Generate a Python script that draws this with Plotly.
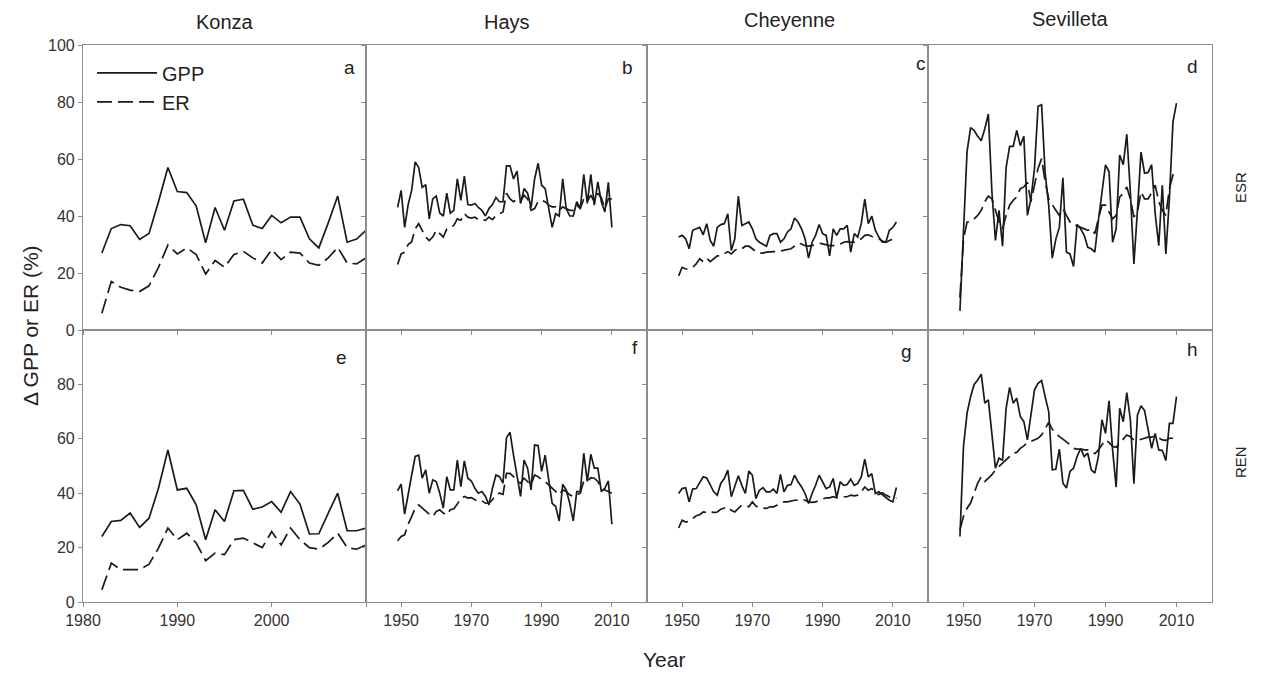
import plotly.graph_objects as go
from plotly.subplots import make_subplots

# ---------------- data ----------------
konza_years = list(range(1982, 2011))
konza_esr_gpp = [27, 35.6, 37, 36.6, 31.8, 33.9, 45, 57, 48.6, 48.2, 43.5, 30.6, 43, 35, 45.3, 45.9,
                 36.8, 35.6, 40.2, 37.6, 39.6, 39.6, 32, 28.8, 37.6, 47, 30.8, 31.9, 35]
konza_esr_er = [5.9, 17, 15, 14, 13.5, 15.5, 22, 29.8, 26.7, 28.8, 26.5, 19.6, 24.4, 22, 26.5, 27.6,
                25.3, 23.5, 28.2, 24.7, 27.3, 27, 23.5, 22.7, 25.3, 29, 23.5, 23.2, 25.3]
konza_ren_gpp = [24.1, 29.6, 30, 32.7, 27.4, 30.8, 41.8, 55.9, 41.2, 41.8, 35.7, 22.9, 33.9, 29.6, 40.9, 41,
                 34.1, 34.9, 36.9, 33, 40.6, 36, 25, 25.1, 32.7, 40, 26.2, 26.2, 27.2]
konza_ren_er = [4.5, 14.3, 11.9, 11.9, 11.9, 13.9, 19.8, 27.2, 22.9, 25.3, 21.7, 15.2, 18, 17.4, 22.9, 23.5,
                21.7, 20, 25.9, 21, 27.2, 22.9, 20, 19.4, 21.9, 25.3, 20, 19.4, 21]

hays_years = list(range(1949, 2011))
hays_esr_gpp = [43, 49, 36, 44, 49, 59, 57, 50, 51, 39, 46, 47, 41, 40, 48, 41, 42, 53, 45.5, 54,
                44, 43.8, 44.4, 43, 42, 40, 42.6, 44, 46.5, 45, 45, 57.6, 57.6, 53, 55.8, 44.4,
                49.6, 48, 43, 53, 58.5, 50.8, 49.6, 42.6, 36, 40.8, 40, 53, 42.6, 40, 40, 45,
                42.6, 54.6, 44.4, 54.6, 43.8, 52, 45, 41.4, 51.8, 36]
hays_esr_er = [23, 26.7, 27.3, 30, 31, 35.5, 37.3, 35, 32.6, 31.4, 32.6, 35, 33.8, 32.6, 35.5, 36, 36.7,
               39, 38.5, 40.8, 39.6, 39.3, 39.6, 38.7, 38.5, 38.5, 39.6, 38.7, 40.2, 40.8, 41.4, 48,
               46, 45, 46, 45, 47.3, 46, 42, 42.6, 45, 45.5, 45, 43.8, 43.2, 43.2, 42, 43.2, 42.6,
               42, 42, 43.8, 42.6, 46, 45, 47.3, 45, 48, 46.4, 42.6, 46, 46]
hays_ren_gpp = [40.9, 43.3, 32.3, 40, 46.7, 53.5, 54, 45.5, 48.6, 40, 44.9, 44.3, 40, 34.5, 46.1, 41.2,
                41.2, 52.2, 42.4, 51.9, 45.5, 44.5, 41.8, 40, 40.6, 38.8, 35.7, 41.8, 46.7, 46.1, 43.7,
                60.4, 62.4, 54, 46.7, 38.8, 52.2, 49.2, 41.2, 57.7, 57.5, 48, 54, 44.3, 36.3, 35.1,
                29.8, 43.3, 41.2, 36.3, 29.8, 40.6, 40.6, 54.7, 44.3, 54.3, 49.2, 49.2, 40.6, 41.8,
                44.5, 28.6]
hays_ren_er = [22.5, 24.1, 24.7, 28.6, 31.4, 34.5, 35.7, 34.5, 33.3, 32.3, 31.4, 33.3, 33.9, 32.7, 32,
               33.9, 34.3, 36, 38.2, 38.8, 38.2, 38.4, 37.6, 36.9, 37.2, 36.3, 36.3, 37.6, 39.4, 40,
               39.6, 47.3, 47.3, 46.1, 44.3, 43.7, 45.5, 44.3, 43.1, 46.7, 46.1, 44.9, 44.3, 43.1,
               41.8, 40.6, 39.4, 41.2, 40.6, 39.4, 38.8, 39.4, 40, 44.5, 44.3, 45.7, 45.5, 44.3,
               41.8, 41.2, 40.6, 40]

cheyenne_years = list(range(1949, 2012))
cheyenne_esr_gpp = [32.6, 33.2, 32, 28.5, 35, 35.5, 36, 33.4, 37.3, 31.4, 29.4, 36, 37, 37.3, 40.8, 27.9,
                    32, 47, 36.7, 37.3, 37.9, 35.5, 32, 30.8, 30.2, 29.4, 33.2, 33.8, 33.8, 30.8, 32,
                    34.4, 35.5, 39.3, 37.9, 35.5, 32, 25.2, 30.8, 33.2, 37, 33.8, 33.2, 26, 35.5, 33.2,
                    35.5, 35.5, 36.7, 27.3, 33.8, 32.6, 37.3, 45.9, 37.3, 40, 35, 32.6, 30.8, 30.8,
                    35, 36, 37.9]
cheyenne_esr_er = [19, 22, 21.4, 21.4, 22, 23.2, 25, 24, 25.2, 24, 25, 26, 26, 26.7, 27.5, 26.7, 27.9,
                   28.7, 28.5, 29.4, 29.4, 28.5, 27.5, 27, 27, 27.3, 27.5, 27.5, 27.5, 27.8, 27.9,
                   28.2, 28.5, 29.4, 30.5, 30.2, 29.6, 29.4, 29.6, 30.2, 30.5, 30.2, 29.9, 29.6, 29.6,
                   29.9, 30.2, 30.8, 31, 30.8, 30.8, 31.4, 32, 33.2, 33.4, 32.8, 32.6, 32, 31.2, 30.8,
                   31.4, 32, 33]
cheyenne_ren_gpp = [39.9, 41.7, 42, 36.8, 41.5, 41.7, 43.9, 46, 45.6, 42.9, 40.5, 39.3, 43.6, 45.4, 48.5,
                    38.7, 42.9, 46.4, 42.9, 39.9, 48.1, 46.6, 38, 41.1, 42, 40.5, 40.5, 41.5, 39.9, 46.9,
                    40.5, 42.9, 43.2, 46.6, 44.2, 42.3, 39.9, 36.2, 39.9, 42.9, 46.6, 44.2, 41.7, 42.3,
                    45.4, 38.3, 44.2, 42.9, 43.2, 45.2, 42.9, 43.6, 46, 52.5, 46, 47.2, 39.9, 40.5,
                    39.5, 38.7, 37.4, 36.8, 42.1]
cheyenne_ren_er = [27.2, 30.1, 29.4, 29.7, 30.7, 31.7, 32.1, 33.1, 32.9, 33.4, 32.9, 33.1, 34.1, 34.6, 35,
                   33.7, 33.1, 34.4, 35.6, 35.3, 35, 36.8, 35.3, 34.6, 34.6, 34.4, 35, 35, 35.6, 36.2,
                   36.8, 36.8, 37.1, 37.4, 37.4, 37.8, 37.4, 36.8, 36.6, 36.8, 37.4, 38, 38.3, 38.3,
                   38.7, 38.3, 38.7, 38.7, 38.7, 39.3, 39, 39.3, 40.5, 42.3, 41.1, 41.7, 39.9, 39.5,
                   40.2, 39.3, 38.7, 38, 38.3]

sevilleta_years = list(range(1949, 2011))
sevilleta_esr_gpp = [6.7, 36.7, 62.6, 71, 70, 68, 66.4, 70.6, 75.8, 48.5, 31.4, 42, 29.4, 57, 64.4, 64.4,
                     70, 64.7, 68, 40.2, 46, 56.7, 78.5, 79, 55, 43.8, 25.2, 31.8, 36, 53.4, 27.3, 26.7,
                     22.3, 37, 35.5, 33.2, 29, 28.5, 27.3, 38.5, 49, 57.9, 55.5, 30.8, 35.5, 61.4, 58,
                     68.7, 48.5, 23.2, 42, 62.4, 55, 55.3, 58, 40.8, 29.6, 50.8, 26.7, 46, 73, 79.6]
sevilleta_esr_er = [11.4, 32, 37.9, 37.9, 39, 40.2, 42, 45, 47, 46, 42, 37.9, 35.5, 40.2, 43.8, 45.5,
                    46.7, 49.6, 50.2, 51.8, 45, 50.8, 56.7, 60.2, 52, 46, 43.8, 42, 40.2, 42.6, 40.2,
                    37.9, 36.7, 36.7, 36, 35.5, 35, 35.5, 33.8, 39, 43.8, 43.8, 41.4, 39, 40.2, 46.7,
                    47.9, 50.2, 46, 39.6, 41.4, 48.5, 46, 46, 48.2, 50.8, 45, 42, 40.2, 49.6, 54.4, 56.4]
sevilleta_ren_gpp = [24.1, 57.2, 69.4, 75.5, 80, 81.6, 83.8, 73.1, 74.3, 60.8, 49.2, 52.9, 52, 71.2, 78.9,
                     73.1, 74.9, 68.2, 66.3, 59.6, 69.4, 78, 80.4, 81.4, 75.5, 70, 48.6, 48.8, 56.2,
                     43.7, 41.9, 48, 49.2, 53.5, 56.5, 53.5, 54.7, 48.6, 47.4, 53.5, 67, 62, 74, 55.9,
                     42.2, 71.2, 66.3, 77, 67, 43.5, 68.8, 72.1, 70.4, 63.3, 56.5, 62, 55.9, 55.7, 52,
                     65.7, 65.7, 75.5]
sevilleta_ren_er = [26.6, 31.5, 34.5, 36.4, 40, 43.7, 46.1, 44.3, 45.5, 46.8, 48.6, 49.8, 51.3, 52.3, 53.5,
                    54.7, 55, 56.5, 57.4, 58.6, 59, 59.6, 60.2, 61.4, 63.5, 66, 63.5, 62, 60.8, 59.9,
                    59, 57.8, 56.5, 56.2, 56.2, 55.9, 55.9, 55.3, 54.5, 55.9, 57.8, 59.6, 58.6, 57.2,
                    56.9, 58.4, 60.2, 61.4, 60.8, 59.6, 59.4, 59.9, 60.2, 60.6, 60.6, 61.1, 60.2, 59.6,
                    59.4, 60.2, 60.2, 60.2]

sites = ["Konza", "Hays", "Cheyenne", "Sevilleta"]
treatments = ["ESR", "REN"]
panel_letters = [["a", "b", "c", "d"], ["e", "f", "g", "h"]]
y_ticks_top = [0, 20, 40, 60, 80, 100]
y_ticks_bottom = [0, 20, 40, 60, 80]
konza_xticks = [1980, 1990, 2000, 2010]
konza_xtext = ["1980", "1990", "2000", ""]
other_xticks = [1950, 1970, 1990, 2010]

series = {
    (0, 0): (konza_years, konza_esr_gpp, konza_esr_er),
    (0, 1): (hays_years, hays_esr_gpp, hays_esr_er),
    (0, 2): (cheyenne_years, cheyenne_esr_gpp, cheyenne_esr_er),
    (0, 3): (sevilleta_years, sevilleta_esr_gpp, sevilleta_esr_er),
    (1, 0): (konza_years, konza_ren_gpp, konza_ren_er),
    (1, 1): (hays_years, hays_ren_gpp, hays_ren_er),
    (1, 2): (cheyenne_years, cheyenne_ren_gpp, cheyenne_ren_er),
    (1, 3): (sevilleta_years, sevilleta_ren_gpp, sevilleta_ren_er),
}

# ---------------- figure ----------------
FONT = "Liberation Sans, Arial, sans-serif"
LINE = "#1a1a1a"
FRAME = "#8c8c8c"

fig = make_subplots(rows=2, cols=4, horizontal_spacing=0, vertical_spacing=0,
                    column_widths=[283, 281, 281, 284], row_heights=[285, 272])

for (r, c), (yrs, gpp, er) in series.items():
    first = (r == 0 and c == 0)
    fig.add_trace(go.Scatter(x=yrs, y=gpp, mode="lines", name="GPP",
                             line=dict(color=LINE, width=1.7),
                             showlegend=first, legendgroup="gpp"), row=r + 1, col=c + 1)
    fig.add_trace(go.Scatter(x=yrs, y=er, mode="lines", name="ER",
                             line=dict(color=LINE, width=1.7, dash="15px,6px"),
                             showlegend=first, legendgroup="er"), row=r + 1, col=c + 1)

for r in range(2):
    for c in range(4):
        if c == 0:
            xr = [1980, 2010]
            tv, tt = konza_xticks, konza_xtext
        else:
            xr = [1940, 2020]
            tv, tt = other_xticks, [str(v) for v in other_xticks]
        fig.update_xaxes(range=xr, tickvals=tv, ticktext=tt, showticklabels=(r == 1),
                         ticks="outside", ticklen=4, tickcolor=FRAME,
                         showline=True, linecolor=FRAME, linewidth=1.2, mirror=True,
                         showgrid=False, zeroline=False,
                         tickfont=dict(family=FONT, size=16, color="#333"),
                         row=r + 1, col=c + 1)
        fig.update_yaxes(range=[0, 100], tickvals=(y_ticks_top if r == 0 else y_ticks_bottom),
                         showticklabels=(c == 0),
                         ticks="outside", ticklen=4, tickcolor=FRAME,
                         showline=True, linecolor=FRAME, linewidth=1.2, mirror=True,
                         showgrid=False, zeroline=False,
                         tickfont=dict(family=FONT, size=16, color="#333"),
                         row=r + 1, col=c + 1)

# panel letters
letter_pos = [[(0.943, 0.92), (0.932, 0.92), (0.975, 0.935), (0.93, 0.925)],
              [(0.915, 0.90), (0.957, 0.935), (0.925, 0.92), (0.933, 0.93)]]
for r in range(2):
    for c in range(4):
        idx = r * 4 + c + 1
        sfx = "" if idx == 1 else str(idx)
        lx, ly = letter_pos[r][c]
        fig.add_annotation(text=panel_letters[r][c], xref=f"x{sfx} domain", yref=f"y{sfx} domain",
                           x=lx, y=ly, showarrow=False, xanchor="center", yanchor="middle",
                           font=dict(family=FONT, size=19, color="#222"))

# column titles
title_pos = [(0.1258, 1.041), (0.3756, 1.041), (0.626, 1.044), (0.874, 1.046)]
for name, (tx, ty) in zip(sites, title_pos):
    fig.add_annotation(text=name, xref="paper", yref="paper", x=tx, y=ty, showarrow=False,
                       xanchor="center", yanchor="middle", font=dict(family=FONT, size=20, color="#222"))

# row labels
for name, ty in zip(treatments, [0.745, 0.2513]):
    fig.add_annotation(text=name, xref="paper", yref="paper", x=1.0248, y=ty, showarrow=False,
                       textangle=-90, xanchor="center", yanchor="middle",
                       font=dict(family=FONT, size=15, color="#222"))

fig.add_annotation(text="Δ GPP or ER (%)", xref="paper", yref="paper", x=-0.047, y=0.497,
                   showarrow=False, textangle=-90, xanchor="center", yanchor="middle",
                   font=dict(family=FONT, size=21, color="#222"))
fig.add_annotation(text="Year", xref="paper", yref="paper", x=0.5146, y=-0.104,
                   showarrow=False, xanchor="center", yanchor="middle",
                   font=dict(family=FONT, size=21, color="#222"))

# the page body adds an 8px offset, so margins are reduced by 8px on left/top
fig.update_layout(
    width=1263, height=675,
    margin=dict(l=75, r=59, t=37, b=81),
    paper_bgcolor="white", plot_bgcolor="white",
    showlegend=True,
    legend=dict(x=0.008, y=0.985, xanchor="left", yanchor="top", bgcolor="rgba(0,0,0,0)",
                font=dict(family=FONT, size=20, color="#222"), tracegroupgap=0, itemwidth=60),
)

fig.write_html("out.html")
